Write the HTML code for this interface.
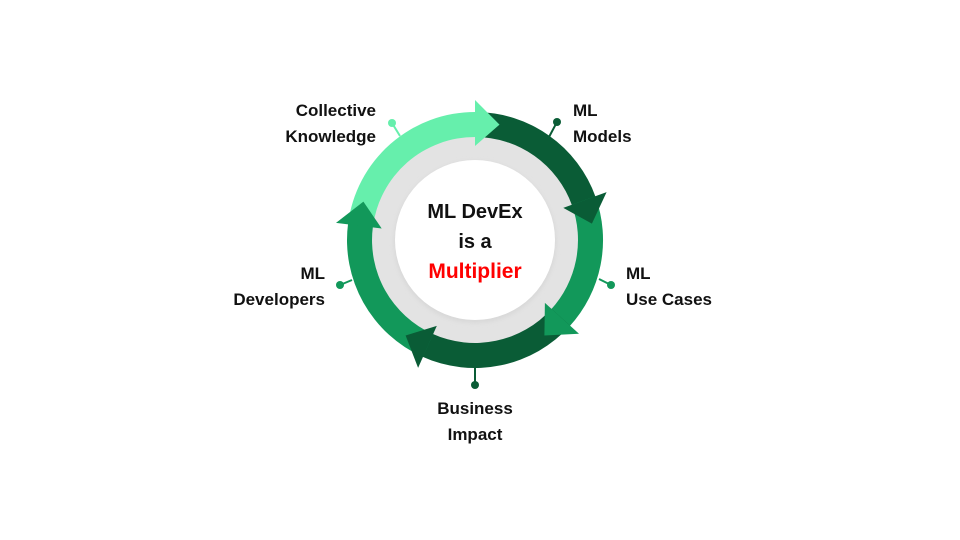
<!DOCTYPE html>
<html><head><meta charset="utf-8">
<style>
html,body{margin:0;padding:0;background:#fff;}
body{width:960px;height:540px;overflow:hidden;position:relative;font-family:"Liberation Sans",Arial,sans-serif;}
.l{position:absolute;font-weight:bold;font-size:17px;line-height:26px;color:#111;}
</style></head><body>
<svg id="s" width="960" height="540" style="position:absolute;left:0;top:0">
<defs><filter id="sh" x="-20%" y="-20%" width="140%" height="140%"><feGaussianBlur stdDeviation="2"/></filter></defs>
<circle cx="475" cy="240" r="104" fill="#e3e3e3"/>
<circle cx="475" cy="242" r="81" fill="#d8d8d8" filter="url(#sh)"/>
<circle cx="475" cy="240" r="80" fill="#fff"/>
<g id="g"></g>
<text x="475" y="218" text-anchor="middle" font-family="Liberation Sans, sans-serif" font-weight="bold" font-size="20" fill="#111">ML DevEx</text>
<text x="475" y="248" text-anchor="middle" font-family="Liberation Sans, sans-serif" font-weight="bold" font-size="20" fill="#111">is a</text>
<text x="475" y="278" text-anchor="middle" font-family="Liberation Sans, sans-serif" font-weight="bold" font-size="21" fill="#f00">Multiplier</text>
</svg>
<div class="l" style="right:584px;top:98px;text-align:right">Collective<br>Knowledge</div>
<div class="l" style="left:573px;top:98px">ML<br>Models</div>
<div class="l" style="left:626px;top:261px">ML<br>Use Cases</div>
<div class="l" style="left:415px;width:120px;top:396px;text-align:center">Business<br>Impact</div>
<div class="l" style="right:635px;top:261px;text-align:right">ML<br>Developers</div>
<script>
var cx=475,cy=240,R1=103,R2=128,H1=94,H2=140,HL=12;
function p(r,a){a=a*Math.PI/180;return (cx+r*Math.sin(a)).toFixed(1)+","+(cy-r*Math.cos(a)).toFixed(1);}
var segs=[[289,372,"#66efac"],[12,82,"#0a5c36"],[82,144,"#12985a"],[144,216,"#0a5c36"],[216,289,"#12985a"]];
var out="";
var con=[[392,123,400,136,"#66efac"],[557,122,549,137,"#0a5c36"],[611,285,599,279,"#12985a"],[475,385,475,368,"#0a5c36"],[340,285,352,280,"#12985a"]];
con.forEach(function(c){out+='<line x1="'+c[0]+'" y1="'+c[1]+'" x2="'+c[2]+'" y2="'+c[3]+'" stroke="'+c[4]+'" stroke-width="2"/><circle cx="'+c[0]+'" cy="'+c[1]+'" r="4" fill="'+c[4]+'"/>';});
segs.forEach(function(s){var a=s[0]-HL,b=s[1]-HL+0.5;var lg=(b-a)>180?1:0;
out+='<path d="M'+p(R2,a)+' A'+R2+','+R2+' 0 '+lg+' 1 '+p(R2,b)+' L'+p(R1,b)+' A'+R1+','+R1+' 0 '+lg+' 0 '+p(R1,a)+' Z" fill="'+s[2]+'"/>';});
segs.forEach(function(s){var e=s[1],b=e-HL;
out+='<path d="M'+p(H1,b)+' L'+p(H2,b)+' L'+p(118,e)+' Z" fill="'+s[2]+'"/>';});
document.getElementById("g").innerHTML=out;
</script>
</body></html>
